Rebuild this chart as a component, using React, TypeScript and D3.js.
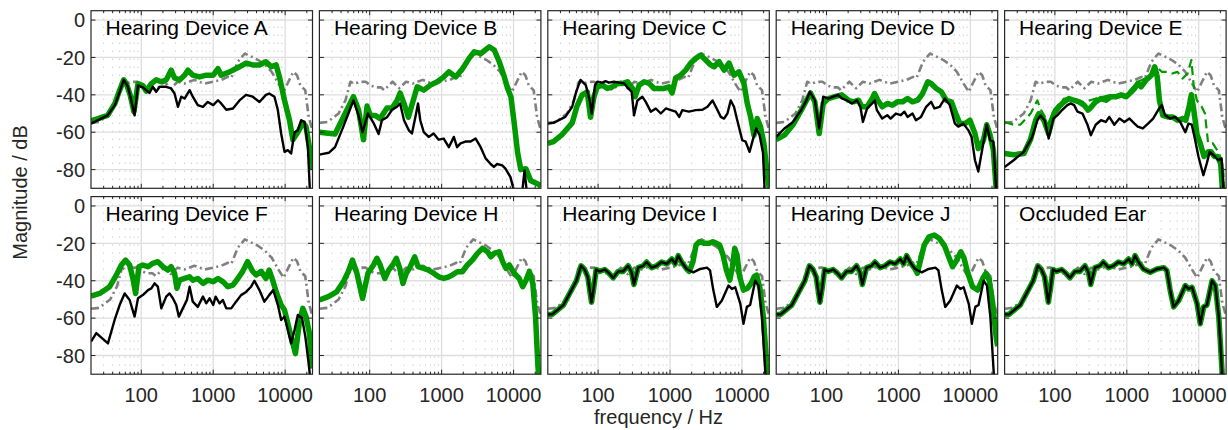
import React from "react";
import * as d3 from "d3";

type Pt = [number, number];

// open-ear reference (grey dash-dot), same in every panel
const openEar: Pt[] = [
	[20, -55], [26, -54.5], [37, -50], [46, -43], [54, -33], [60, -34], [75, -33], [88, -33],
	[103, -35], [121, -36], [143, -36], [159, -37.5], [208, -33], [258, -36.5], [320, -33],
	[396, -34], [547, -32], [754, -34], [1000, -33], [1295, -32], [1600, -30.4], [1785, -31],
	[2200, -22.3], [2750, -17.9], [3400, -19.6], [4220, -21.4], [5260, -24], [6500, -27.7],
	[8060, -34], [9500, -38.4], [11100, -33], [13000, -27.7], [14600, -29.5], [16300, -35],
	[19000, -37.5], [21300, -52], [24000, -59],
];

// occluded ear (black in I, J and Occluded Ear)
const occluded: Pt[] = [
	[20, -58], [23, -58], [33, -53], [40, -47], [50, -40], [58, -32], [65, -34], [72, -38],
	[81, -51.5], [87, -44], [94, -34], [105, -35], [124, -34], [138, -35.5], [162, -38.5],
	[190, -35], [223, -35], [262, -32], [292, -35.5], [315, -42], [361, -33], [424, -32],
	[472, -30], [555, -33], [652, -32], [765, -30], [900, -31], [1060, -28.4], [1180, -31],
	[1300, -26.6], [1450, -30], [1700, -33.7], [2110, -35.5], [2630, -33.7], [3260, -33],
	[3600, -34.5], [4000, -45], [4480, -54], [5260, -50.6], [6500, -42.6], [7260, -44.4],
	[8060, -43.5], [9500, -52.4], [10500, -63], [11700, -54], [13000, -53], [15300, -40],
	[17000, -42.6], [19000, -59.5], [21200, -90], [22000, -97],
];

const greenA: Pt[] = [
	[20, -54], [34, -51], [43, -44.6], [50, -37.5], [57, -32], [62, -34], [70, -40], [79, -49],
	[90, -34], [105, -35], [117, -38], [138, -34], [161, -32], [190, -33], [222, -32],
	[260, -26.8], [290, -31], [340, -32], [400, -29.5], [445, -26.8], [520, -29.5],
	[645, -30.4], [800, -29.5], [1000, -29.5], [1165, -26], [1290, -29.5], [1690, -27.7],
	[2320, -25], [2860, -23], [3540, -24], [4400, -24], [5400, -22.3], [6400, -25],
	[7500, -24], [8400, -31], [9800, -43], [11500, -53.6], [12800, -64], [15000, -60],
	[17600, -55], [19500, -57], [21700, -68], [23700, -80],
];
const blackA: Pt[] = [
	[20, -55.4], [34, -51], [43, -45.5], [50, -38.4], [57, -32], [65, -35.4], [72.6, -43],
	[80.8, -51], [90, -35], [105, -36], [117, -37.5], [130, -39], [145, -35.7], [161, -38.4],
	[180, -35.7], [222, -35.7], [260, -36.6], [290, -39.3], [323, -46.4], [360, -41],
	[400, -42], [470, -37.5], [520, -41], [610, -45.5], [720, -46.4], [840, -43.8],
	[1000, -45.5], [1165, -42.9], [1290, -44.6], [1520, -48], [1880, -47.3], [2320, -43],
	[2860, -40], [3540, -41], [4400, -43.8], [5400, -40], [6000, -39.3], [7100, -41],
	[7900, -48], [8800, -60.7], [9800, -70.5], [10900, -69.6], [12100, -71.4], [13500, -60],
	[15000, -59], [16700, -53.6], [18600, -54.5], [20700, -68], [22300, -95],
];

const greenB: Pt[] = [
	[20, -60], [33, -61], [43, -52], [59.5, -41], [70, -48], [82, -64], [92, -46], [102, -51],
	[119, -51], [140, -52.7], [174, -47], [205, -47], [240, -43], [265, -39], [300, -44.6],
	[345, -52], [458, -35.7], [565, -37.5], [700, -34.8], [870, -33], [1070, -30.4],
	[1260, -27.7], [1570, -30.4], [1950, -26], [2410, -20.5], [2830, -17], [3510, -17.9],
	[4590, -14.3], [5390, -16], [6330, -22.3], [7440, -30.4], [8270, -36.6], [9190, -41],
	[10200, -55], [11400, -71], [12600, -80], [14800, -79.5], [17400, -86], [22600, -88],
	[24000, -89],
];
const blackB: Pt[] = [
	[20, -72], [27, -71], [33, -68], [43, -57], [50.6, -50], [59.5, -43], [70, -51],
	[79.6, -60], [94.6, -50], [113, -55], [133, -61], [148, -53.6], [174, -52], [205, -48],
	[240, -46.4], [265, -44.6], [300, -53.6], [350, -59], [387, -60.7], [432, -51.8],
	[470, -44.6], [505, -53.6], [565, -60], [660, -62.5], [774, -60.7], [910, -64],
	[1070, -63.4], [1260, -68], [1480, -62.5], [1640, -68], [1830, -66], [2140, -65],
	[2530, -65], [2970, -63.4], [3490, -68], [4090, -74], [4800, -77], [5330, -78.6],
	[5920, -77], [6950, -77.7], [7720, -79.5], [9060, -84], [10000, -90.5], [11800, -94],
	[13200, -92], [14200, -80.5], [15300, -92], [16400, -96],
];

const greenC: Pt[] = [
	[20, -66], [24, -65], [31, -61.6], [43.7, -55], [51, -46], [60, -40], [70.7, -38.4],
	[78.5, -52], [87.6, -41], [97.6, -35.7], [115, -34.8], [135, -36.6], [158, -35.7],
	[185, -34], [218, -34], [256, -33], [300, -36.6], [327, -41], [373, -34.8], [437, -33],
	[512, -33.9], [600, -36.6], [704, -36.6], [826, -36.6], [968, -35.7], [1070, -39],
	[1200, -31], [1410, -29.5], [1650, -26.8], [1940, -23], [2280, -20.5], [2670, -18.75],
	[3130, -21.4], [3670, -24], [4100, -25], [4810, -22.3], [5640, -26.8], [6610, -23],
	[7750, -29.5], [9090, -27.7], [10670, -34], [11860, -44.6], [13200, -51.8],
	[14700, -61.6], [16300, -52.7], [18100, -57], [20200, -66], [22400, -82], [24000, -90],
];
const blackC: Pt[] = [
	[20, -55.4], [24, -55], [35, -51.8], [43.7, -46.4], [49.6, -38.4], [57, -32],
	[67.5, -34.8], [76.6, -43], [81.6, -50], [90.6, -34.8], [97.6, -33], [115, -33.5],
	[127, -32.7], [141, -33.5], [166, -33], [195, -33.5], [230, -33.9], [263, -36.6],
	[293, -38.4], [316, -51], [352, -43], [412, -41], [460, -43.75], [540, -49],
	[635, -47.3], [745, -50], [875, -47.3], [1030, -48.2], [1200, -49], [1340, -51.8],
	[1480, -48.2], [1830, -49], [2280, -48.2], [2820, -48], [3320, -46.4], [3900, -43],
	[4330, -46.4], [5080, -51.8], [5640, -52.7], [6280, -50], [6980, -43], [7750, -46.4],
	[8600, -53.6], [10100, -64.3], [11250, -65], [12750, -70.5], [14200, -64], [15800, -58],
	[17600, -61.6], [19600, -71], [20900, -95],
];

const greenD: Pt[] = [
	[20, -64], [26, -61.6], [34.3, -56], [44.9, -48], [52.7, -43], [60, -39], [68.9, -43.75],
	[79.2, -60.7], [90, -44.6], [106, -42], [131, -41], [163, -40], [202, -42.9],
	[237, -43.75], [279, -42.9], [311, -46.4], [367, -46.4], [432, -42], [465, -39.3],
	[518, -42.9], [595, -46.4], [700, -44.6], [824, -45.5], [970, -43.75], [1140, -43.75],
	[1340, -42], [1570, -43.75], [1850, -42.9], [2170, -39.3], [2560, -33], [2850, -33.9],
	[3360, -36.6], [3950, -38.4], [4640, -43], [5450, -43.75], [6410, -51], [7140, -55.4],
	[8400, -55.4], [9870, -53.6], [11600, -60.7], [12900, -68.75], [15200, -64.3],
	[16900, -56], [18800, -61.6], [20900, -69.6], [23300, -95],
];
const blackD: Pt[] = [
	[20, -62.5], [26, -58], [34.3, -54.5], [44.9, -48], [52.7, -43], [58.6, -38.4],
	[68.9, -42.9], [79.2, -58], [90, -41], [106, -42], [124, -41], [146, -40], [163, -41.9],
	[191, -42.9], [225, -44.6], [265, -42.9], [296, -46.4], [321, -54.5], [367, -47.3],
	[432, -44.6], [470, -43], [502, -48.2], [595, -52.7], [700, -50.9], [780, -52.7],
	[920, -50], [1080, -50.9], [1210, -49], [1340, -51.8], [1570, -50], [1750, -53.6],
	[2060, -51.8], [2430, -46.4], [2850, -43.75], [3170, -47.3], [3740, -46.4], [4400, -42],
	[5180, -45.5], [6100, -55.4], [6800, -57], [8000, -55.4], [9400, -59], [10400, -62.5],
	[11600, -75], [12900, -81], [14700, -68.75], [16900, -56], [18800, -64.3], [20900, -65],
	[23300, -97],
];

const greenE: Pt[] = [
	[20, -71.4], [26.7, -72], [37, -71.4], [45.7, -64], [54, -53.6], [60, -50], [70.4, -53.6],
	[81.7, -60.7], [97, -50], [114, -46.4], [134, -43.75], [157, -42], [185, -42.9],
	[216, -43.75], [254, -45.5], [290, -48.2], [323, -46.4], [369, -43.75], [437, -42],
	[512, -42.9], [600, -41], [714, -41], [835, -40], [978, -41], [1160, -38.4],
	[1280, -36.6], [1420, -33.9], [1580, -35.7], [1860, -32], [2200, -29.5], [2440, -25],
	[2650, -30.4], [2840, -43], [3160, -51], [3700, -51.8], [4300, -51.8], [5060, -53.6],
	[5960, -52.7], [6600, -53.6], [7350, -46.4], [7900, -40], [8530, -48], [9440, -61],
	[10500, -66], [11840, -73], [13500, -70.5], [14900, -70.5], [16500, -73], [18300, -73],
	[20200, -77], [21700, -95],
];
const greenDashedE: Pt[] = [
	[20, -54.5], [26.7, -56], [33, -56], [46, -50], [57, -43], [64, -48], [81.7, -55],
	[97, -48], [134, -42], [185, -42], [254, -44], [369, -42], [600, -40], [978, -40],
	[1420, -33], [1860, -31], [2200, -29.5], [2600, -25], [3060, -27.7], [3700, -27.7],
	[4300, -28.6], [5060, -27.7], [5960, -31.3], [7000, -28.6], [7900, -21.4], [8530, -35.7],
	[9440, -43], [11000, -46.4], [12200, -50], [13500, -66], [15700, -66], [19300, -71.4],
	[21700, -78.6], [23000, -95],
];
const blackE: Pt[] = [
	[20, -78.6], [26.7, -75], [37, -70.5], [48.5, -62.5], [57, -53.6], [63.3, -51],
	[72, -53.6], [82, -63.4], [95.3, -52.7], [108, -51], [127, -48], [149, -45.5],
	[166, -44.6], [185, -45.5], [206, -49], [242, -50], [284, -56], [316, -61.6], [369, -56],
	[437, -53.6], [512, -54.5], [570, -51.8], [670, -56], [790, -52.7], [925, -54.5],
	[1090, -52.7], [1280, -55.4], [1420, -57], [1670, -58], [1970, -55.4], [2320, -52.7],
	[2740, -48], [3060, -45.5], [3400, -50.9], [4000, -52.7], [4700, -51.8], [5530, -54.5],
	[6500, -60], [7200, -55.4], [8000, -56], [8900, -64], [9900, -73], [11600, -83],
	[12900, -76.8], [14200, -70.5], [16800, -73], [18800, -75], [20800, -74], [22600, -97],
];

const greenF: Pt[] = [
	[20, -48.2], [26.4, -46.8], [36.3, -43.2], [45, -37], [52.8, -31.6], [60.6, -29],
	[68.9, -31.6], [76.6, -38.8], [83.4, -46.8], [92.8, -32.5], [105, -31.6], [124, -32.5],
	[145, -30.7], [170, -29.8], [200, -32.5], [234, -34.3], [260, -32.5], [290, -36],
	[313, -44], [340, -39.7], [400, -38.8], [470, -37.9], [520, -39.7], [610, -38.8],
	[720, -41.4], [840, -39.7], [1000, -40.5], [1165, -38.8], [1360, -40.5], [1600, -43.2],
	[1880, -42.3], [2200, -38.8], [2570, -35], [3000, -29.8], [3540, -35], [3940, -36.9],
	[4640, -35], [5400, -38.8], [6000, -34.3], [6700, -39.7], [7500, -45.9], [8800, -53],
	[9800, -55.7], [10900, -62.8], [12100, -70], [13900, -79], [15800, -62], [17600, -54.8],
	[19500, -59.2], [21700, -68], [23700, -87],
];
const blackF: Pt[] = [
	[20, -72.6], [23.7, -68], [34.4, -73.5], [42.6, -61], [50, -53], [58.7, -46.8],
	[68.9, -50.3], [80.8, -59.2], [90, -49.4], [105, -47.7], [124, -45], [138, -44.1],
	[153, -41.4], [170, -43.2], [190, -54.8], [222, -48.5], [247, -46.8], [275, -49.4],
	[306, -53], [333, -59.2], [378, -54.8], [431, -50.3], [470, -43.2], [520, -51.2],
	[610, -54], [720, -48.5], [800, -52.1], [890, -49.4], [1000, -53], [1080, -48.5],
	[1225, -52.1], [1360, -50.3], [1520, -54.8], [1780, -54.8], [2080, -51.2], [2440, -47.7],
	[2860, -46], [3360, -43.2], [3740, -40], [4390, -45], [5150, -51.2], [6000, -47.7],
	[6840, -45], [7930, -53], [8800, -61], [9800, -59.2], [10900, -66.4], [12100, -73.5],
	[13500, -66.4], [15000, -58.3], [17200, -60.1], [19100, -70], [21200, -84], [23000, -97],
];

const greenH: Pt[] = [
	[20, -50.3], [26.7, -48.5], [34.6, -46], [43.2, -40.5], [50.6, -35], [57.6, -29],
	[66.4, -36], [79.6, -49.4], [94.6, -36], [113, -31.6], [126, -28], [140, -31.6],
	[162, -38.8], [184, -34.3], [216, -30.7], [235, -28], [262, -33.4], [290, -41.4],
	[323, -36], [367, -32.5], [422, -27.2], [470, -32.5], [565, -33.4], [660, -34.3],
	[774, -36], [910, -37.9], [1070, -38.8], [1260, -37.9], [1400, -37], [1650, -35.2],
	[1940, -35.2], [2280, -31.6], [2680, -28.9], [3150, -25.4], [3700, -22.7], [4350, -24.5],
	[4830, -27.2], [5380, -25.4], [6320, -24.5], [7050, -29.8], [7840, -33.4], [8730, -31.6],
	[10200, -36], [12000, -38.8], [13400, -43.2], [14900, -39.7], [16600, -35], [18500, -41.4],
	[20200, -59], [21700, -84], [22800, -97],
];

// above ~1.7 kHz the devices I and J depart from the occluded ear
const greenIHigh: Pt[] = [
	[1850, -35], [2080, -30], [2300, -20.9], [2560, -19.1], [3000, -20], [3520, -20],
	[3940, -19.1], [4400, -20], [4900, -20.9], [5460, -26.3], [6080, -34.3], [6780, -39.7],
	[7370, -32.5], [7940, -22.7], [8550, -26.3], [9280, -37.8], [10500, -45], [12000, -44],
	[13400, -41.4], [14800, -37.8], [16000, -37], [17800, -44], [19800, -59], [22000, -84],
	[23500, -95],
];
const greenJHigh: Pt[] = [
	[1830, -36], [2030, -29], [2280, -20.9], [2660, -16.5], [3150, -15.6], [3690, -17.3],
	[4330, -20.9], [5090, -28], [5650, -32.5], [6280, -29.8], [7370, -24.5], [8190, -28],
	[9100, -35.2], [10700, -43.2], [12600, -45], [14900, -38.7], [16500, -36], [18300, -39.7],
	[20400, -52], [23100, -71.7], [24000, -75],
];

const occludedLow = occluded.filter((d) => d[0] <= 1700);

const titles = [
	"Hearing Device A", "Hearing Device B", "Hearing Device C", "Hearing Device D",
	"Hearing Device E", "Hearing Device F", "Hearing Device H", "Hearing Device I",
	"Hearing Device J", "Occluded Ear",
];
const greens: Pt[][] = [
	greenA, greenB, greenC, greenD, greenE, greenF, greenH,
	occludedLow.concat(greenIHigh), occludedLow.concat(greenJHigh), occluded,
];
const blacks: (Pt[] | null)[] = [
	blackA, blackB, blackC, blackD, blackE, blackF, null, occluded, occluded, occluded,
];

const xTicks = [100, 1000, 10000];
const xTickLabels = ["100", "1000", "10000"];
const yTicks = [0, -20, -40, -60, -80];
const minorX = [30, 40, 50, 60, 70, 80, 90, 200, 300, 400, 500, 600, 700, 800, 900,
	2000, 3000, 4000, 5000, 6000, 7000, 8000, 9000, 20000];

const FONT = "'Liberation Sans', Arial, Helvetica, sans-serif";
const GREEN = "#009900";
const AXIS = "#262626";

const left0 = 91;
const panelW = 221.5;
const stepX = 228.4;
const rowTops = [10.7, 196.6];
const panelH = 177.6;

const x = d3.scaleLog().domain([20, 24000]).range([0, panelW]);
const y = d3.scaleLinear().domain([-90, 5]).range([panelH, 0]);
const line = d3
	.line<Pt>()
	.x((d) => x(d[0]))
	.y((d) => y(d[1]));

const Panel: React.FC<{ i: number }> = ({ i }) => {
	const col = i % 5;
	const row = Math.floor(i / 5);
	const tx = left0 + col * stepX;
	const ty = rowTops[row];
	const black = blacks[i];
	return (
		<g transform={`translate(${tx},${ty})`}>
			<defs>
				<clipPath id={`clip${i}`}>
					<rect x={0} y={0} width={panelW} height={panelH} />
				</clipPath>
			</defs>
			<rect x={0} y={0} width={panelW} height={panelH} fill="#fff" />
			{minorX.map((f) => (
				<line key={"m" + f} x1={x(f)} x2={x(f)} y1={0} y2={panelH}
					stroke="#b8b8b8" strokeWidth={1} strokeDasharray="1,7" />
			))}
			{xTicks.map((f) => (
				<line key={"g" + f} x1={x(f)} x2={x(f)} y1={0} y2={panelH}
					stroke="#dedede" strokeWidth={1.3} />
			))}
			{yTicks.map((v) => (
				<line key={"h" + v} x1={0} x2={panelW} y1={y(v)} y2={y(v)}
					stroke="#dedede" strokeWidth={1.3} />
			))}
			<g clipPath={`url(#clip${i})`} fill="none" strokeLinejoin="round">
				<path d={line(openEar) || ""} stroke="#808080" strokeWidth={2.6}
					strokeDasharray="8,3.5,2,3.5" />
				<path d={line(greens[i]) || ""} stroke={GREEN} strokeWidth={5.5} />
				{i === 4 && (
					<path d={line(greenDashedE) || ""} stroke={GREEN} strokeWidth={2.2}
						strokeDasharray="9,5" />
				)}
				{black && <path d={line(black) || ""} stroke="#000" strokeWidth={2.4} />}
			</g>
			{/* ticks */}
			{minorX.map((f) => (
				<g key={"mt" + f} stroke={AXIS} strokeWidth={1}>
					<line x1={x(f)} x2={x(f)} y1={panelH} y2={panelH - 2.5} />
					<line x1={x(f)} x2={x(f)} y1={0} y2={2.5} />
				</g>
			))}
			{xTicks.map((f) => (
				<g key={"xt" + f} stroke={AXIS} strokeWidth={1}>
					<line x1={x(f)} x2={x(f)} y1={panelH} y2={panelH - 4.5} />
					<line x1={x(f)} x2={x(f)} y1={0} y2={4.5} />
				</g>
			))}
			{yTicks.map((v) => (
				<g key={"yt" + v} stroke={AXIS} strokeWidth={1}>
					<line x1={0} x2={4.5} y1={y(v)} y2={y(v)} />
					<line x1={panelW} x2={panelW - 4.5} y1={y(v)} y2={y(v)} />
				</g>
			))}
			<rect x={0} y={0} width={panelW} height={panelH} fill="none"
				stroke={AXIS} strokeWidth={1.2} />
			<text x={14.5} y={24.5} fontFamily={FONT} fontSize={21} fill="#000">
				{titles[i]}
			</text>
			{col === 0 &&
				yTicks.map((v) => (
					<text key={"yl" + v} x={-6} y={y(v)} dy="0.36em" textAnchor="end"
						fontFamily={FONT} fontSize={20} fill={AXIS}>
						{v}
					</text>
				))}
			{row === 1 &&
				xTicks.map((f, k) => (
					<text key={"xl" + f} x={x(f)} y={panelH + 28} textAnchor="middle"
						fontFamily={FONT} fontSize={20} fill={AXIS}>
						{xTickLabels[k]}
					</text>
				))}
		</g>
	);
};

export default function App() {
	return (
		<svg width={1228} height={430} style={{ position: "absolute", left: 0, top: 0 }}>
			<rect width={1228} height={430} fill="#fff" />
			{titles.map((_, i) => (
				<Panel key={i} i={i} />
			))}
			<text transform={`translate(27,192.5) rotate(-90)`} textAnchor="middle"
				fontFamily={FONT} fontSize={20} fill={AXIS}>
				Magnitude / dB
			</text>
			<text x={left0 + 2 * stepX + panelW / 2} y={424} textAnchor="middle"
				fontFamily={FONT} fontSize={20} fill={AXIS}>
				frequency / Hz
			</text>
		</svg>
	);
}
